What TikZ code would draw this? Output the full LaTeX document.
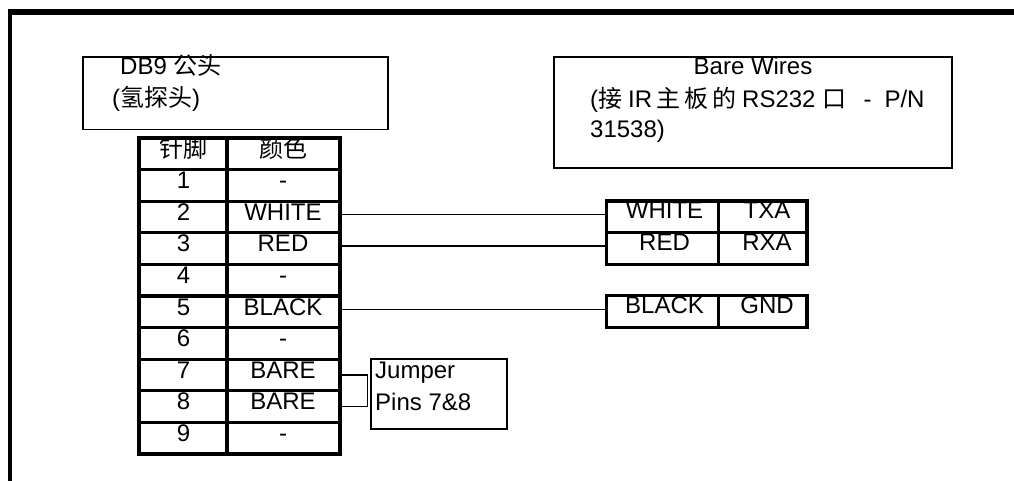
\documentclass[tikz,border=0pt]{standalone}
\usepackage{fontspec}
\setmainfont{Liberation Sans}
\newfontfamily\cjk{Noto Sans CJK SC}
\usetikzlibrary{positioning}

\begin{document}
\begin{tikzpicture}[
	x=1pt, y=-1pt,
	basic/.style   = {draw, line width=1.9pt, inner sep=0pt, outer sep=0pt, anchor=north west},
	cell/.style    = {draw, line width=3.3pt, inner sep=0pt, outer sep=0pt, minimum height=31.6pt, anchor=north west},
	pincell/.style = {cell, minimum width=88pt},
	colcell/.style = {cell, minimum width=113pt},
	wirecell/.style = {cell, minimum width=112pt},
	sigcell/.style = {cell, minimum width=88.5pt},
	txt/.style     = {font=\fontsize{24}{24}\selectfont, inner sep=0pt, anchor=base},
	wire/.style    = {line width=1.6pt}]

	\useasboundingbox (0,0) rectangle (1014,481);

	% outer frame
	\coordinate (fb) at (10.2,481);
	\coordinate (fc) at (10.2,12);
	\coordinate (fr) at (1014,12);
	\draw[line width=4pt] (fb) -- (fc);
	\draw[line width=5.4pt] (8.2,12) -- (fr);

	% header boxes
	\node[basic, minimum width=305pt, minimum height=72.5pt] (probe) at (83,57) {};
	\node[txt, anchor=base west] (probe1) at (120,75) {DB9 {\cjk 公头}};
	\node[txt, anchor=base west] (probe2) at (112,107) {({\cjk 氢探头})};

	\node[basic, minimum width=397.7pt, minimum height=111.5pt] (board) at (554,56.8) {};
	\node[txt] (board1) at (753,74.5) {Bare Wires};
	\node[txt, anchor=base west] (board2) at (590,107.3) {({\cjk 接}\hspace{6pt}IR\hspace{4pt}{\cjk 主}\hspace{4pt}{\cjk 板}\hspace{4pt}{\cjk 的}\hspace{6pt}RS232\hspace{7pt}{\cjk 口}\hspace{17pt}-\hspace{13pt}P/N};
	\node[txt, anchor=base west] (board3) at (590,137.5) {31538)};

	% pin table
	\node[pincell] (p0) at (139,138) {};
	\node[colcell] (c0) at (227,138) {};
	\node[txt] (pt0) at (183,158) {\cjk 针脚};
	\node[txt] (ct0) at (283,158) {\cjk 颜色};
	\foreach \row/\col in {1/-,2/WHITE,3/RED,4/-,5/BLACK,6/-,7/BARE,8/BARE,9/-} {
		\node[pincell] (p\row) at (139,138+\row*31.6) {};
		\node[colcell] (c\row) at (227,138+\row*31.6) {};
		\node[txt] (pt\row) at (183.5,157+\row*31.6) {\row};
		\node[txt] (ct\row) at (283,157+\row*31.6) {\col};
	}

	% wire tables
	\foreach \name/\top/\col/\sig in {w/201/WHITE/TXA,r/232.6/RED/RXA,b/295.7/BLACK/GND} {
		\node[wirecell] (\name c) at (606.5,\top) {};
		\node[sigcell] (\name s) at (718.5,\top) {};
		\node[txt] (\name ct) at (664.5,\top+17.5) {\col};
		\node[txt] (\name st) at (767,\top+17.5) {\sig};
	}

	% jumper box
	\node[basic, minimum width=136pt, minimum height=69.5pt] (jumper) at (370.7,359.3) {};
	\node[txt, anchor=base west] (jumper1) at (375,378) {Jumper};
	\node[txt, anchor=base west] (jumper2) at (375,410) {Pins 7\&8};

	% wires
	\draw[wire] ([yshift=2.5pt]c2.east) -- ([yshift=2.5pt]c2.east -| wc.west);
	\draw[wire] ([yshift=2.5pt]c3.east) -- ([yshift=2.5pt]c3.east -| rc.west);
	\draw[wire] ([yshift=2.5pt]c5.east) -- ([yshift=2.5pt]c5.east -| bc.west);
	\draw[wire] (c7.east) -- ++(27.5,0) |- (c8.east);
\end{tikzpicture}
\end{document}
